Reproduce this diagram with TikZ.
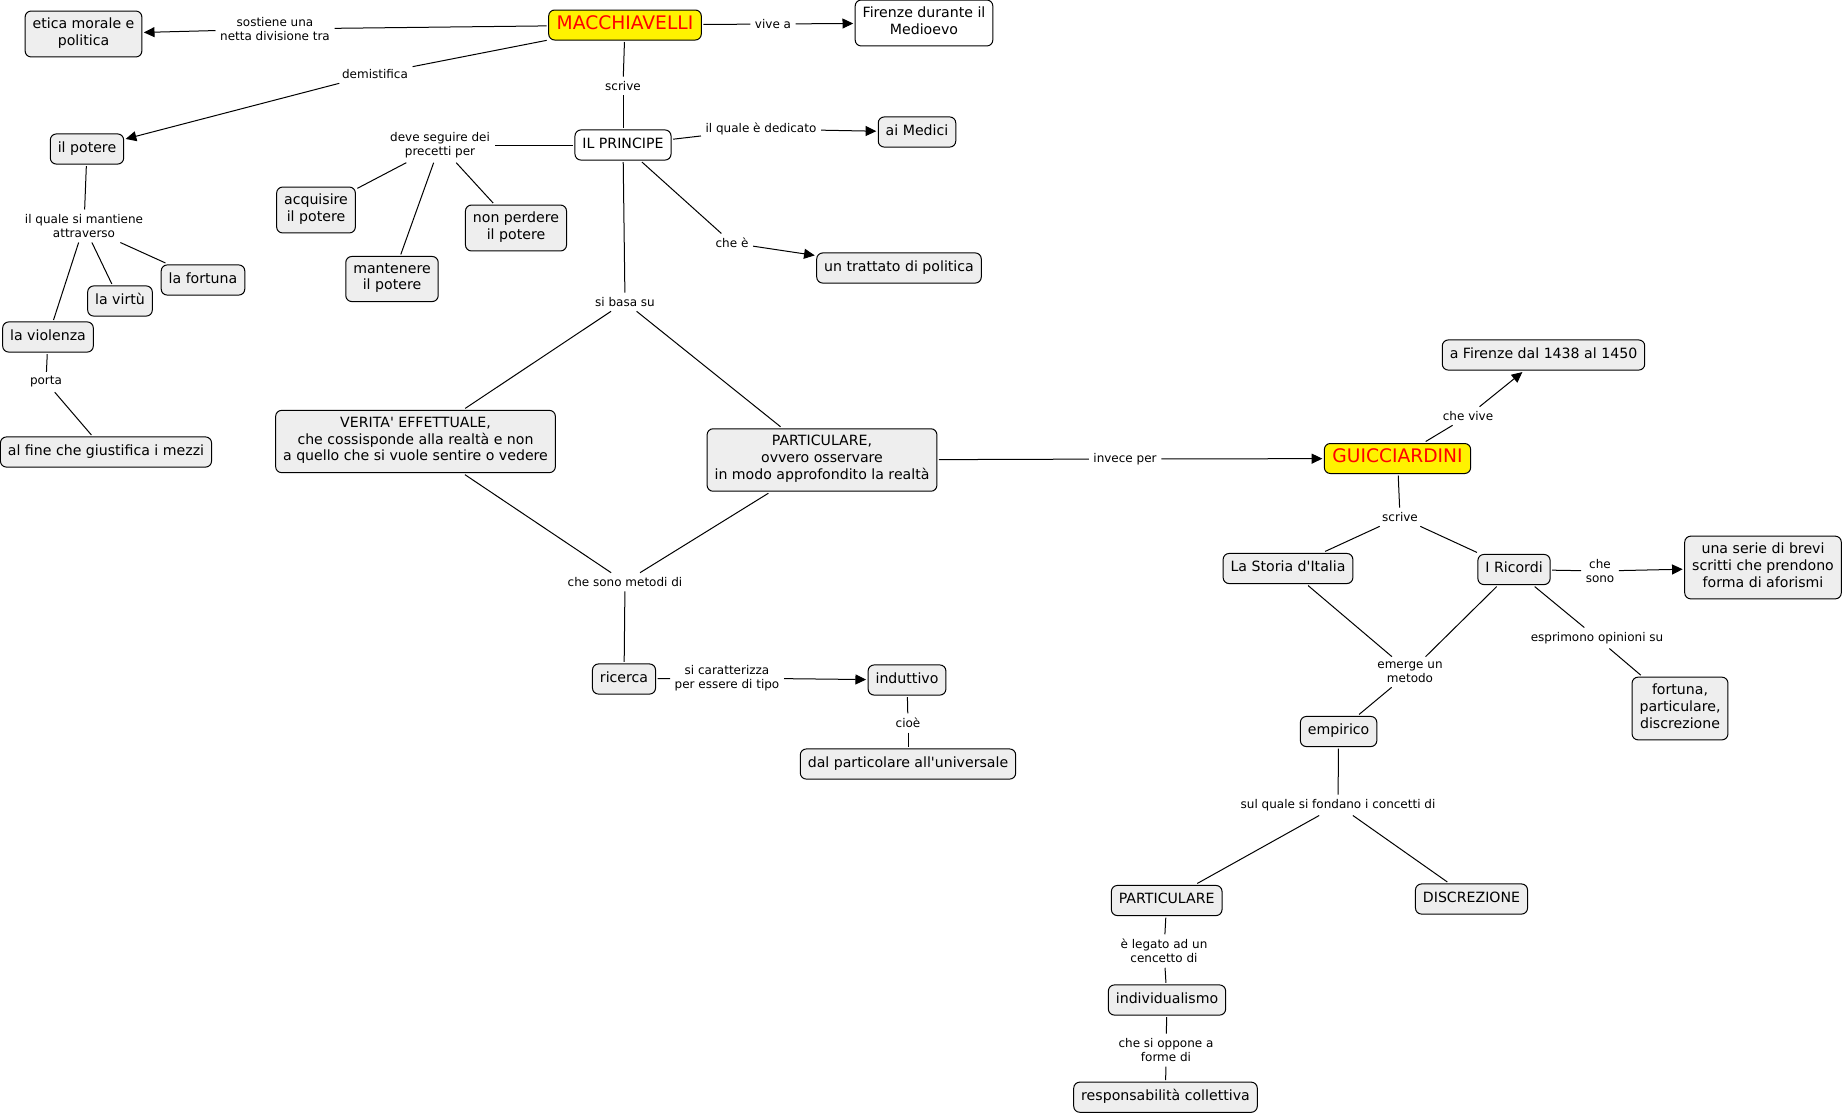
\documentclass[tikz,border=0pt]{standalone}
\usepackage{fontspec}
\newfontfamily\cmapfont{DejaVu Sans}
\usetikzlibrary{arrows.meta}
\definecolor{boxgray}{HTML}{EEEEEE}
\definecolor{titlered}{HTML}{FF0000}
\tikzset{
  concept/.style={draw, rounded corners=4.5pt, fill=boxgray, line width=0.75pt,
    inner xsep=5.6pt, inner ysep=5pt, outer sep=1.5pt, align=center,
    font=\cmapfont\fontsize{10.6}{12.6}\selectfont,
    execute at begin node=\strut, execute at end node=\strut},
  whitebox/.style={concept, fill=white},
  person/.style={concept, fill=yellow, text=titlered, inner ysep=3pt,
    inner xsep=6pt, font=\cmapfont\fontsize{14}{16.5}\selectfont},
  link/.style={inner sep=1.5pt, outer sep=2pt, align=center,
    font=\cmapfont\fontsize{9}{10.8}\selectfont},
  arr/.style={-{Triangle[length=8pt,width=7.5pt]}},
}
\begin{document}
\begin{tikzpicture}[x=0.75pt,y=-0.75pt]
  \useasboundingbox (0,0) rectangle (1844,1115);
  % concepts
  \node[concept] (etica) at (83.5,34) {etica morale e\\politica};
  \node[person] (mac) at (625,25) {MACCHIAVELLI};
  \node[whitebox] (firenze) at (924,23) {Firenze durante il\\Medioevo};
  \node[concept] (potere) at (87,149) {il potere};
  \node[whitebox] (principe) at (623,145) {IL PRINCIPE};
  \node[concept] (medici) at (917,132) {ai Medici};
  \node[concept] (acquisire) at (316,210) {acquisire\\il potere};
  \node[concept] (perdere) at (516,228) {non perdere\\il potere};
  \node[concept] (mantenere) at (392,279) {mantenere\\il potere};
  \node[concept] (trattato) at (899,268) {un trattato di politica};
  \node[concept] (fortuna) at (203,280) {la fortuna};
  \node[concept] (virtu) at (120,301) {la virtù};
  \node[concept] (violenza) at (48,337) {la violenza};
  \node[concept] (fine) at (106,452) {al fine che giustifica i mezzi};
  \node[concept] (verita) at (415.5,441.5) {VERITA' EFFETTUALE,\\che cossisponde alla realtà e non\\a quello che si vuole sentire o vedere};
  \node[concept] (partm) at (822,460) {PARTICULARE,\\ovvero osservare\\in modo approfondito la realtà};
  \node[concept] (ricerca) at (624,679) {ricerca};
  \node[concept] (induttivo) at (907,680) {induttivo};
  \node[concept] (dal) at (908,764) {dal particolare all'universale};
  \node[concept] (firenzeg) at (1543.5,355) {a Firenze dal 1438 al 1450};
  \node[person] (gui) at (1397.5,458.5) {GUICCIARDINI};
  \node[concept] (storia) at (1288,568.5) {La Storia d'Italia};
  \node[concept] (ricordi) at (1514,569.5) {I Ricordi};
  \node[concept] (serie) at (1763,567.5) {una serie di brevi\\scritti che prendono\\forma di aforismi};
  \node[concept] (empirico) at (1338.6,731.5) {empirico};
  \node[concept] (opinioni) at (1680,708.5) {fortuna,\\particulare,\\discrezione};
  \node[concept] (partg) at (1166.7,900.5) {PARTICULARE};
  \node[concept] (discr) at (1471.5,899) {DISCREZIONE};
  \node[concept] (indiv) at (1167,1000) {individualismo};
  \node[concept] (resp) at (1165.5,1097.2) {responsabilità collettiva};
  % linking phrases
  \node[link] (lsost) at (275,29) {sostiene una\\netta divisione tra};
  \node[link] (lvive) at (773,24) {vive a};
  \node[link] (ldemi) at (375,74) {demistifica};
  \node[link] (lscrm) at (623,86) {scrive};
  \node[link] (ldedi) at (761,129) {il quale è dedicato};
  \node[link] (ldeve) at (440,145) {deve seguire dei\\precetti per};
  \node[link] (lmant) at (84,226) {il quale si mantiene\\attraverso};
  \node[link] (lchee) at (732,243) {che è};
  \node[link] (lbasa) at (625,302) {si basa su};
  \node[link] (lporta) at (46,382) {porta};
  \node[link] (lmeto) at (625,582) {che sono metodi di};
  \node[link] (lcara) at (727,678) {si caratterizza\\per essere di tipo};
  \node[link] (lcioe) at (908,723) {cioè};
  \node[link] (linve) at (1125,459) {invece per};
  \node[link] (lchev) at (1468,416) {che vive};
  \node[link] (lscrg) at (1400,517) {scrive};
  \node[link] (lsono) at (1600,571) {che\\sono};
  \node[link] (lespr) at (1597,638) {esprimono opinioni su};
  \node[link] (lemer) at (1410,672) {emerge un\\metodo};
  \node[link] (lfond) at (1338,805) {sul quale si fondano i concetti di};
  \node[link] (llega) at (1164,951) {è legato ad un\\cencetto di};
  \node[link] (loppo) at (1166,1050) {che si oppone a\\forme di};
  \begin{scope}[line width=0.75pt]
    \draw (mac) to (lsost);
    \draw[arr] (lsost) to (etica);
    \draw (mac) to (lvive);
    \draw[arr] (lvive) to (firenze);
    \draw (mac) to (ldemi);
    \draw[arr] (ldemi) to (potere);
    \draw (mac) to (lscrm);
    \draw (lscrm) to (principe);
    \draw (principe) to (ldedi);
    \draw[arr] (ldedi) to (medici);
    \draw (principe) to (ldeve);
    \draw (ldeve) to (acquisire);
    \draw (ldeve) to (mantenere);
    \draw (ldeve) to (perdere);
    \draw (principe) to (lchee);
    \draw[arr] (lchee) to (trattato);
    \draw (principe) to (lbasa);
    \draw (lbasa) to (verita);
    \draw (lbasa) to (partm);
    \draw (potere) to (lmant);
    \draw (lmant) to (violenza);
    \draw (lmant) to (virtu);
    \draw (lmant) to (fortuna);
    \draw (violenza) to (lporta);
    \draw (lporta) to (fine);
    \draw (verita) to (lmeto);
    \draw (partm) to (lmeto);
    \draw (lmeto) to (ricerca);
    \draw (ricerca) to (lcara);
    \draw[arr] (lcara) to (induttivo);
    \draw (induttivo) to (lcioe);
    \draw (lcioe) to (dal);
    \draw (partm) to (linve);
    \draw[arr] (linve) to (gui);
    \draw (gui) to (lchev);
    \draw[arr] (lchev) to (firenzeg);
    \draw (gui) to (lscrg);
    \draw (lscrg) to (storia);
    \draw (lscrg) to (ricordi);
    \draw (ricordi) to (lsono);
    \draw[arr] (lsono) to (serie);
    \draw (ricordi) to (lespr);
    \draw (lespr) to (opinioni);
    \draw (storia) to (lemer);
    \draw (ricordi) to (lemer);
    \draw (lemer) to (empirico);
    \draw (empirico) to (lfond);
    \draw (lfond) to (partg);
    \draw (lfond) to (discr);
    \draw (partg) to (llega);
    \draw (llega) to (indiv);
    \draw (indiv) to (loppo);
    \draw (loppo) to (resp);
  \end{scope}
\end{tikzpicture}
\end{document}
